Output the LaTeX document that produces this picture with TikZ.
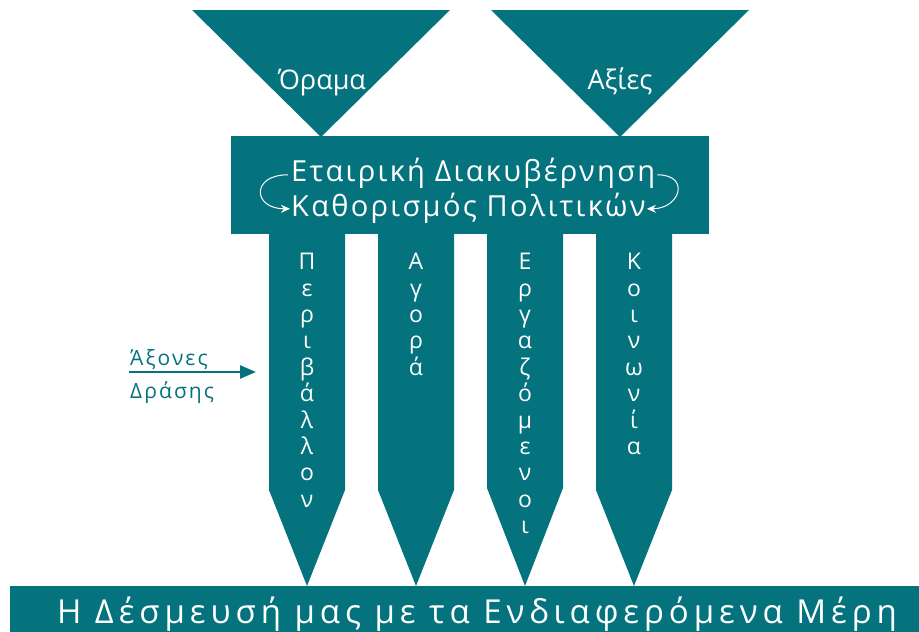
\documentclass[tikz,border=0pt]{standalone}
\usepackage{fontspec}
\setmainfont{Open Sans}
\newfontfamily\widefont[LetterSpace=15]{Open Sans}
\newfontfamily\boxfont[LetterSpace=8]{Open Sans}
\newfontfamily\labelfont[LetterSpace=10]{Open Sans}
\usepackage{xcolor}
\usetikzlibrary{arrows.meta,positioning,calc}
\definecolor{petrol}{RGB}{4,115,126}

\begin{document}
\begin{tikzpicture}[x=1pt, y=-1pt,
    every node/.style={text=white, inner sep=0pt},
    block/.style={fill=petrol},
    pillartext/.style={anchor=north, align=center, font=\fontsize{23}{26.4}\selectfont},
    boxtext/.style={anchor=base west, font=\boxfont\fontsize{29}{32}\selectfont},
    cycle arrow/.style={draw=white, line width=1pt, -{Stealth[length=9pt,width=8pt]}}]
    \useasboundingbox (0,0) rectangle (919,632);

    \fill[block] (192,10) -- (450,10) -- (321,137) -- cycle;
    \fill[block] (491,10) -- (749,10) -- (620,137) -- cycle;
    \node[anchor=base, font=\fontsize{27}{30}\selectfont] (vision) at (322,89) {Όραμα};
    \node[anchor=base, font=\fontsize{27}{30}\selectfont] (values) at (620,89) {Αξίες};

    \fill[block] (231,136) rectangle (709,234);
    \node[boxtext] (governance) at (291,181) {Εταιρική Διακυβέρνηση};
    \node[boxtext] (policies) at (291,216) {Καθορισμός Πολιτικών};
    \draw[cycle arrow] ([xshift=-3pt,yshift=-2pt]governance.west) to[out=180, in=180, looseness=2.8] ([xshift=-1pt,yshift=-1pt]policies.west);
    \draw[cycle arrow] ([xshift=2pt,yshift=-2pt]governance.east) to[out=0, in=0, looseness=2.4] ([xshift=1pt,yshift=-1pt]policies.east);

    \fill[block] (269,230) -- (345,230) -- (345,490) -- (307,586) -- (269,490) -- cycle;
    \fill[block] (378,230) -- (454,230) -- (454,490) -- (416,586) -- (378,490) -- cycle;
    \fill[block] (487,230) -- (563,230) -- (563,488) -- (525,586) -- (487,488) -- cycle;
    \fill[block] (596,230) -- (672,230) -- (672,490) -- (634,586) -- (596,490) -- cycle;
    \node[pillartext] (environment) at (307,253) {Π\\ε\\ρ\\ι\\β\\ά\\λ\\λ\\ο\\ν};
    \node[pillartext] (market) at (416,253) {Α\\γ\\ο\\ρ\\ά};
    \node[pillartext] (employees) at (525,253) {Ε\\ρ\\γ\\α\\ζ\\ό\\μ\\ε\\ν\\ο\\ι};
    \node[pillartext] (society) at (634,253) {Κ\\ο\\ι\\ν\\ω\\ν\\ί\\α};

    \node[anchor=base west, text=petrol, font=\labelfont\fontsize{21}{24}\selectfont] (axes) at (130,365) {Άξονες};
    \node[anchor=base west, text=petrol, font=\labelfont\fontsize{21}{24}\selectfont] (action) at (130,398) {Δράσης};
    \coordinate (axisstart) at (129,372);
    \coordinate (axisend) at (256,372);
    \draw[petrol, line width=2.5pt, -{Triangle[length=16pt,width=13pt]}] (axisstart) -- (axisend);

    \fill[block] (10,586) rectangle (919,632);
    \node[anchor=base, font=\widefont\fontsize{33}{36}\selectfont] (commitment) at (477,623) {Η Δέσμευσή μας με τα Ενδιαφερόμενα Μέρη};
\end{tikzpicture}
\end{document}
